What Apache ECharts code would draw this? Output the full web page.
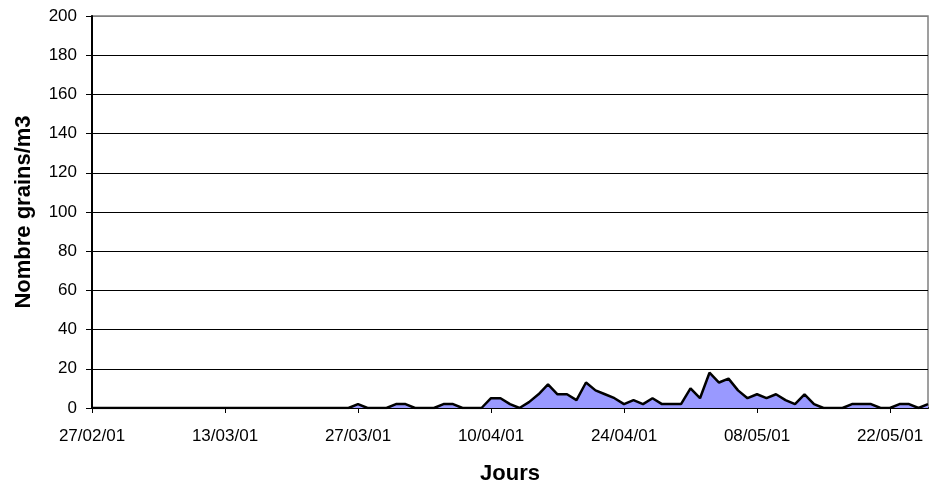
<!DOCTYPE html>
<html>
<head>
<meta charset="utf-8">
<script src="https://cdn.jsdelivr.net/npm/echarts@6/dist/echarts.min.js"></script>
<style>html,body{margin:0;padding:0;background:#fff}#c{width:930px;height:487px}</style>
</head>
<body>
<div id="c"></div>
<script>
const dates = [
 "27/02/01","28/02/01",
 "01/03/01","02/03/01","03/03/01","04/03/01","05/03/01","06/03/01","07/03/01","08/03/01","09/03/01","10/03/01",
 "11/03/01","12/03/01","13/03/01","14/03/01","15/03/01","16/03/01","17/03/01","18/03/01","19/03/01","20/03/01",
 "21/03/01","22/03/01","23/03/01","24/03/01","25/03/01","26/03/01","27/03/01","28/03/01","29/03/01","30/03/01","31/03/01",
 "01/04/01","02/04/01","03/04/01","04/04/01","05/04/01","06/04/01","07/04/01","08/04/01","09/04/01","10/04/01",
 "11/04/01","12/04/01","13/04/01","14/04/01","15/04/01","16/04/01","17/04/01","18/04/01","19/04/01","20/04/01",
 "21/04/01","22/04/01","23/04/01","24/04/01","25/04/01","26/04/01","27/04/01","28/04/01","29/04/01","30/04/01",
 "01/05/01","02/05/01","03/05/01","04/05/01","05/05/01","06/05/01","07/05/01","08/05/01","09/05/01","10/05/01",
 "11/05/01","12/05/01","13/05/01","14/05/01","15/05/01","16/05/01","17/05/01","18/05/01","19/05/01","20/05/01",
 "21/05/01","22/05/01","23/05/01","24/05/01","25/05/01","26/05/01"
];
const grains = [
 0,0,
 0,0,0,0,0,0,0,0,0,0,
 0,0,0,0,0,0,0,0,0,0,
 0,0,0,0,0,0,2,0,0,0,2,
 2,0,0,0,2,2,0,0,0,5,
 5,2,0,3,7,12,7,7,4,13,
 9,7,5,2,4,2,5,2,2,2,
 10,5,18,13,15,9,5,7,5,7,
 4,2,7,2,0,0,0,2,2,2,
 0,0,2,2,0,2
];
const yTicks = { min: 0, max: 200, interval: 20 };
const xTickEvery = 14;
const yTitle = "Nombre grains/m3";
const xTitle = "Jours";

const chart = echarts.init(document.getElementById('c'), null, { renderer: 'canvas' });
const font = '"Liberation Sans", Arial, sans-serif';
const gridColors = [];
for (let i = 0; i <= (yTicks.max - yTicks.min) / yTicks.interval; i++) {
  gridColors.push(i === (yTicks.max - yTicks.min) / yTicks.interval ? '#808080' : '#000000');
}
chart.setOption({
  animation: false,
  backgroundColor: '#ffffff',
  grid: { left: 92, right: 2, top: 16, bottom: 79, containLabel: false, outerBoundsMode: 'none', show: true, borderColor: '#808080', borderWidth: 1.5, backgroundColor: 'transparent' },
  xAxis: {
    type: 'category',
    data: dates,
    boundaryGap: false,
    name: xTitle,
    nameLocation: 'middle',
    nameGap: 55,
    nameTextStyle: { fontFamily: font, fontSize: 22, fontWeight: 'bold', color: '#000' },
    axisLine: { show: true, lineStyle: { color: '#000', width: 2 } },
    axisTick: { show: true, interval: xTickEvery - 1, length: 5, lineStyle: { color: '#000', width: 1 } },
    axisLabel: { interval: xTickEvery - 1, margin: 20, fontFamily: font, fontSize: 17, color: '#000' },
    splitLine: { show: false }
  },
  yAxis: {
    type: 'value',
    min: yTicks.min, max: yTicks.max, interval: yTicks.interval,
    name: yTitle,
    nameLocation: 'middle',
    nameGap: 57,
    nameTextStyle: { fontFamily: font, fontSize: 22, fontWeight: 'bold', color: '#000' },
    axisLine: { show: true, lineStyle: { color: '#000', width: 2 } },
    axisTick: { show: true, length: 6, lineStyle: { color: '#000', width: 1 } },
    axisLabel: { margin: 15, fontFamily: font, fontSize: 17, color: '#000' },
    splitLine: { show: true, lineStyle: { color: gridColors, width: 1 } }
  },
  series: [{
    type: 'line',
    data: grains,
    symbol: 'none',
    lineStyle: { color: '#000', width: 2.5 },
    areaStyle: { color: '#9999ff', opacity: 1 },
    z: 3
  }]
});
</script>
</body>
</html>
